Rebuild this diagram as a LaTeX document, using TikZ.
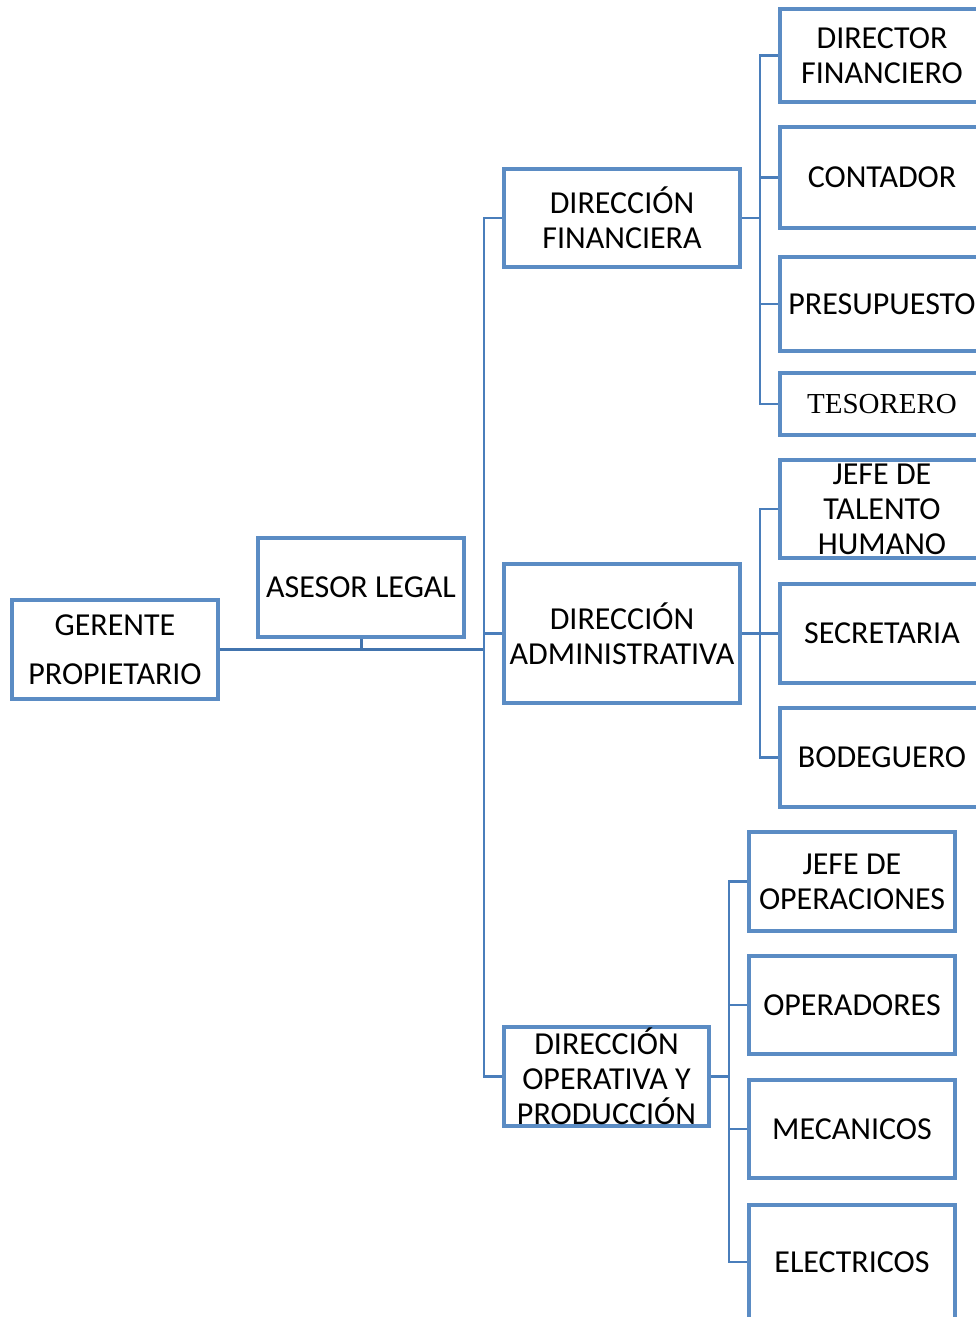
\documentclass[tikz,border=0pt]{standalone}
\usepackage{fontspec}
\setmainfont{Carlito}
\newfontfamily\tesfont{Liberation Serif}
\definecolor{boxblue}{HTML}{5B8CC4}
\definecolor{linkblue}{HTML}{4A7EBB}
\definecolor{mainblue}{HTML}{4274AE}
\begin{document}
\begin{tikzpicture}[x=1pt,y=-1pt,
  orgbox/.style={draw=boxblue,line width=3.4pt,fill=white,inner sep=0pt,align=center,
    font=\fontsize{32}{35}\selectfont},
  colF/.style={orgbox,minimum width=204pt},
  colO/.style={orgbox,minimum width=206pt},
  link/.style={draw=linkblue,line width=2.4pt},
  mainlink/.style={draw=mainblue,line width=3pt}]
\clip (0,0) rectangle (976,1317);
\fill[white] (0,0) rectangle (976,1317);

% top level
\node[orgbox,minimum width=206pt,minimum height=99pt,font=\fontsize{32}{49}\selectfont]
  (ger) at (115,649.5) {GERENTE\\PROPIETARIO};
\node[orgbox,minimum width=206pt,minimum height=99pt] (ase) at (361,587.5) {ASESOR LEGAL};

% directions
\node[orgbox,minimum width=236pt,minimum height=98pt] (dfin) at (622,218) {DIRECCIÓN\\FINANCIERA};
\node[orgbox,minimum width=236pt,minimum height=139pt] (dadm) at (622,633.5) {DIRECCIÓN\\ADMINISTRATIVA};
\node[orgbox,minimum width=205pt,minimum height=99pt] (dope) at (606.5,1076.5) {DIRECCIÓN\\OPERATIVA Y\\PRODUCCIÓN};

% financial staff
\node[colF,minimum height=93pt] (f1) at (882,55.5) {DIRECTOR\\FINANCIERO};
\node[colF,minimum height=101pt] (f2) at (882,177.5) {CONTADOR};
\node[colF,minimum height=94pt] (f3) at (882,304) {PRESUPUESTO};
\node[colF,minimum height=62pt,font=\tesfont\fontsize{29}{34}\selectfont] (f4) at (882,404) {TESORERO};

% administrative staff
\node[colF,minimum height=98pt] (a1) at (882,509) {JEFE DE\\TALENTO\\HUMANO};
\node[colF,minimum height=99pt] (a2) at (882,633.5) {SECRETARIA};
\node[colF,minimum height=99pt] (a3) at (882,757.5) {BODEGUERO};

% operations staff
\node[colO,minimum height=99pt] (o1) at (852,881.5) {JEFE DE\\OPERACIONES};
\node[colO,minimum height=98pt] (o2) at (852,1005) {OPERADORES};
\node[colO,minimum height=98pt] (o3) at (852,1129) {MECANICOS};
\node[colO,minimum height=114pt] (o4) at (852,1262) {ELECTRICOS};

% bus positions
\coordinate (tr) at (484,0);
\coordinate (bf) at (760,0);
\coordinate (bo) at (729,0);

% top-level connectors
\draw[mainlink] (ger.east) -- (ger.east -| tr);
\draw[mainlink] (ase.south) -- (ase.south |- ger.east);
\draw[link] (dfin.west) -- (dfin.west -| tr) -- (dope.west -| tr) -- (dope.west);
\draw[link] (dadm.west) -- (dadm.west -| tr);

% financial branch
\draw[link] (dfin.east) -- (dfin.east -| bf);
\draw[link] (f1.west) -- (f1.west -| bf) -- (f4.west -| bf) -- (f4.west);
\draw[link] (f2.west) -- (f2.west -| bf);
\draw[link] (f3.west) -- (f3.west -| bf);

% administrative branch
\draw[link] (dadm.east) -- (dadm.east -| bf);
\draw[link] (a1.west) -- (a1.west -| bf) -- (a3.west -| bf) -- (a3.west);
\draw[link] (a2.west) -- (a2.west -| bf);

% operations branch
\draw[link] (dope.east) -- (dope.east -| bo);
\draw[link] (o1.west) -- (o1.west -| bo) -- (o4.west -| bo) -- (o4.west);
\draw[link] (o2.west) -- (o2.west -| bo);
\draw[link] (o3.west) -- (o3.west -| bo);
\end{tikzpicture}
\end{document}
